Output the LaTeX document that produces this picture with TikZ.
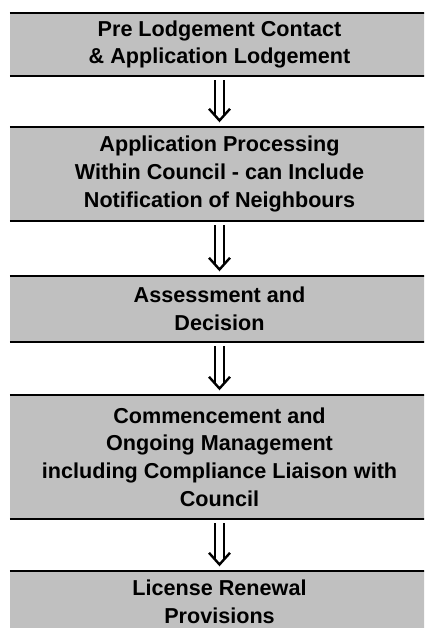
\documentclass[tikz,border=0pt]{standalone}
\usepackage{fontspec}
\setmainfont{Liberation Sans}
\usetikzlibrary{calc}
\definecolor{boxgray}{RGB}{192,192,192}
\tikzset{
  flowbox/.style={fill=boxgray, inner sep=0pt, minimum width=419pt, align=center,
    font=\fontsize{21.6pt}{27.7pt}\selectfont\bfseries},
  boxrule/.style={line width=2.2pt, black},
  arrowline/.style={line width=2.4pt, black, line cap=butt, line join=miter},
}
\newcommand\dnarrow[2]{%
  \draw[arrowline] ($(#1.south)+(-4.7,4)$) -- ($(#2.north)+(-4.7,-11.7)$);
  \draw[arrowline] ($(#1.south)+(4.7,4)$) -- ($(#2.north)+(4.7,-11.7)$);
  \draw[arrowline] ($(#2.north)+(-10.5,-18)$) -- ($(#2.north)+(0,-6.3)$) -- ($(#2.north)+(10.5,-18)$);
}
\begin{document}
\begin{tikzpicture}[x=1pt,y=-1pt]
\useasboundingbox (0,0) rectangle (424,628);
\clip (0,0) rectangle (424,628);
\fill[white] (0,0) rectangle (424,628);
\node[flowbox, minimum height=63pt] (b1) at (219.5,44.5)
  {Pre Lodgement Contact\\\& Application Lodgement};
\node[flowbox, minimum height=94pt] (b2) at (219.5,174)
  {Application Processing\\Within Council - can Include\\Notification of Neighbours};
\node[flowbox, minimum height=66pt] (b3) at (219.5,309)
  {Assessment and\\Decision};
\node[flowbox, minimum height=124pt] (b4) at (219.5,457)
  {Commencement and\\Ongoing Management\\including Compliance Liaison with\\Council};
\node[flowbox, minimum height=62pt] (b5) at (219.5,602)
  {License Renewal\\Provisions};
\foreach \b in {b1,b2,b3,b4}{
  \draw[boxrule] (\b.north west) -- (\b.north east);
  \draw[boxrule] (\b.south west) -- (\b.south east);
}
\draw[boxrule] (b5.north west) -- (b5.north east);
\dnarrow{b1}{b2}
\dnarrow{b2}{b3}
\dnarrow{b3}{b4}
\dnarrow{b4}{b5}
\end{tikzpicture}
\end{document}
